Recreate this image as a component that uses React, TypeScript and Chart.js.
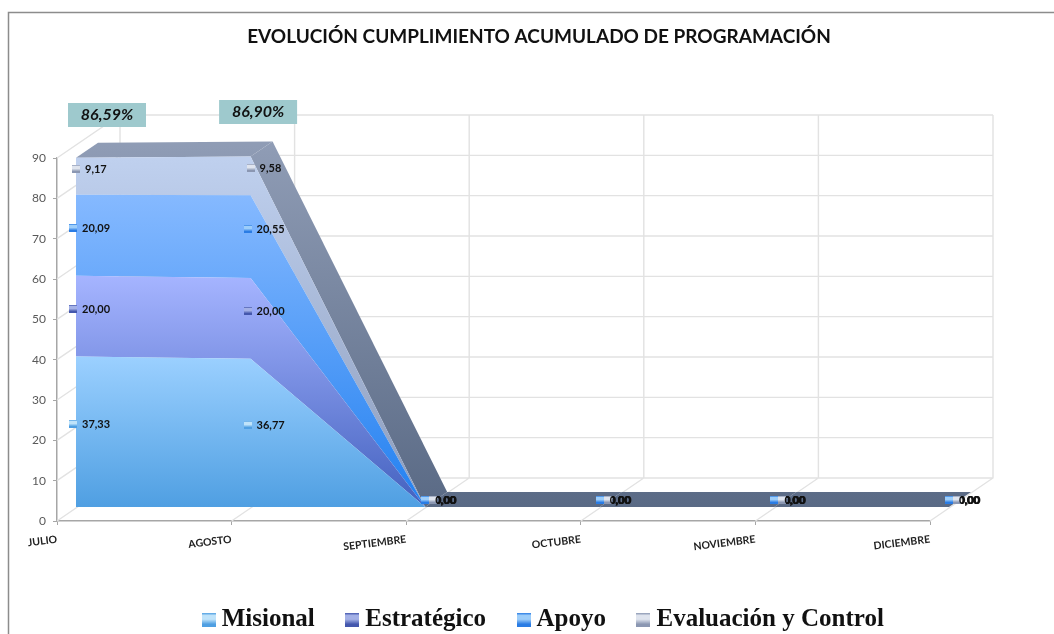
import React, { useEffect, useRef } from "react";
import { Chart, registerables } from "chart.js";

Chart.register(...registerables);

const categories = ["JULIO", "AGOSTO", "SEPTIEMBRE", "OCTUBRE", "NOVIEMBRE", "DICIEMBRE"];
const misional = [37.33, 36.77, 0, 0, 0, 0];
const estrategico = [20.0, 20.0, 0, 0, 0, 0];
const apoyo = [20.09, 20.55, 0, 0, 0, 0];
const evaluacion = [9.17, 9.58, 0, 0, 0, 0];
const seriesNames = ["Misional", "Estratégico", "Apoyo", "Evaluación y Control"];
const seriesValues = [misional, estrategico, apoyo, evaluacion];
const totalLabels = ["86,59%", "86,90%"];
const title = "EVOLUCIÓN CUMPLIMIENTO ACUMULADO DE PROGRAMACIÓN";

const fillTop = ["#9bd0ff", "#a5b4ff", "#85b9ff", "#bfd0ee"];
const fillBottom = ["#4f9fe2", "#4361bf", "#2280f0", "#8c9cbc"];
const iconDark = ["#4f9fe2", "#4457ad", "#2a7ce4", "#8b97b2"];
const iconLight = ["#bfe3fa", "#a3b0e6", "#9ccdfa", "#dfe4ee"];
// gradient start, in the plot's own pixel rows
const gradientStart = [371, 291, 210, 173];

const DEPTH = { wallX: 63, wallY: -43, areaX: 19, areaY: -14, backX: 41, backY: -29 };
const LABEL_DY = -7.5;

const fmt = (v: number) => v.toFixed(2).replace(".", ",");

function makeIcon(size: number, light: string, dark: string) {
  const c = document.createElement("canvas");
  c.width = size;
  c.height = size;
  const g = c.getContext("2d")!;
  const grad = g.createLinearGradient(0, 0, 0, size);
  grad.addColorStop(0, dark);
  grad.addColorStop(0.18, light);
  grad.addColorStop(0.45, light);
  grad.addColorStop(0.8, dark);
  grad.addColorStop(1, dark);
  g.fillStyle = grad;
  g.fillRect(0, 0, size, size);
  return c;
}

const scene3d = (smallIcons: HTMLCanvasElement[]) => ({
  id: "scene3d",
  afterLayout(chart: any) {
    chart.legend.left += 69;
    chart.legend.right += 69;
    chart.titleBlock.left += 62;
    chart.titleBlock.right += 62;
  },
  beforeDraw(chart: any) {
    const { ctx, width, height } = chart;
    ctx.save();
    ctx.strokeStyle = "#8c8c8c";
    ctx.lineWidth = 1.5;
    ctx.beginPath();
    ctx.moveTo(8.5, height);
    ctx.lineTo(8.5, 12.5);
    ctx.lineTo(width, 12.5);
    ctx.stroke();
    ctx.restore();
  },
  beforeDatasetsDraw(chart: any) {
    const { ctx } = chart;
    const x = chart.scales.x;
    const y = chart.scales.y;
    const x0 = x.getPixelForValue(0);
    const xN = x.getPixelForValue(categories.length - 1);
    const y0 = y.getPixelForValue(0);

    ctx.save();
    ctx.strokeStyle = "#e2e2e2";
    ctx.lineWidth = 1.4;
    ctx.beginPath();
    y.ticks.forEach((t: any) => {
      const py = y.getPixelForValue(t.value);
      ctx.moveTo(x0, py);
      ctx.lineTo(x0 + DEPTH.wallX, py + DEPTH.wallY);
      ctx.lineTo(xN + DEPTH.wallX, py + DEPTH.wallY);
    });
    categories.forEach((_, i) => {
      const px = x.getPixelForValue(i);
      ctx.moveTo(px, y0);
      ctx.lineTo(px + DEPTH.wallX, y0 + DEPTH.wallY);
      ctx.lineTo(px + DEPTH.wallX, y.getPixelForValue(90) + DEPTH.wallY);
    });
    ctx.stroke();

    // depth of the stacked solid: top surface and falling side
    const totals = categories.map((_, i) => seriesValues.reduce((s, a) => s + a[i], 0));
    const grad = ctx.createLinearGradient(0, 145, 0, 507);
    grad.addColorStop(0, "#8f9cb5");
    grad.addColorStop(1, "#5a6a85");
    ctx.fillStyle = grad;
    for (let i = 0; i < totals.length - 1; i++) {
      const xa = x.getPixelForValue(i);
      const xb = x.getPixelForValue(i + 1);
      const ya = y.getPixelForValue(totals[i]);
      const yb = y.getPixelForValue(totals[i + 1]);
      ctx.beginPath();
      ctx.moveTo(xa + DEPTH.areaX, ya + DEPTH.areaY);
      ctx.lineTo(xa + DEPTH.backX, ya + DEPTH.backY);
      ctx.lineTo(xb + DEPTH.backX, yb + DEPTH.backY);
      ctx.lineTo(xb + DEPTH.areaX, yb + DEPTH.areaY);
      ctx.closePath();
      ctx.fill();
    }
    ctx.restore();

    ctx.save();
    ctx.translate(DEPTH.areaX, DEPTH.areaY);
  },
  afterDatasetsDraw(chart: any) {
    const { ctx } = chart;
    ctx.restore();
    const x = chart.scales.x;
    const y = chart.scales.y;

    ctx.save();
    ctx.textAlign = "left";
    ctx.textBaseline = "middle";
    const base = categories.map(() => 0);
    seriesValues.forEach((vals, s) => {
      const last = s === seriesValues.length - 1;
      vals.forEach((v, i) => {
        const front = x.getPixelForValue(i) + DEPTH.areaX;
        const py = y.getPixelForValue(base[i] + v / 2) + DEPTH.areaY + LABEL_DY;
        const mx = front + (v > 0 ? (last ? 0 : -3) : last ? 8 : 0);
        ctx.drawImage(smallIcons[s], Math.round(mx - 4), Math.round(py - 4));
        const tx = v > 0 ? mx + 9 : front + 9 + (last ? 1 : 0);
        ctx.fillStyle = "#111111";
        ctx.font = "bold 11px Lato";
        ctx.fillText(fmt(v), tx, py + 0.5);
        base[i] += v;
      });
    });

    // percentage call-outs over the first two months
    const callX = [50, 26.5];
    const callY = [115, 112];
    totalLabels.forEach((label, i) => {
      const cx = x.getPixelForValue(i) + callX[i];
      const cy = callY[i];
      ctx.fillStyle = "#9ec9cd";
      ctx.fillRect(cx - 39, cy - 12, 78, 24);
      ctx.fillStyle = "#111111";
      ctx.font = "italic bold 16px Lato";
      ctx.textAlign = "center";
      ctx.fillText(label, cx, cy);
    });
    ctx.restore();
  },
});

export default function App() {
  const ref = useRef<HTMLCanvasElement>(null);
  useEffect(() => {
    const canvas = ref.current!;
    const g = canvas.getContext("2d")!;
    const legendIcons = seriesNames.map((_, i) => makeIcon(14, iconLight[i], iconDark[i]));
    const smallIcons = seriesNames.map((_, i) => makeIcon(8, iconLight[i], iconDark[i]));
    const fills = seriesNames.map((_, i) => {
      const gr = g.createLinearGradient(0, gradientStart[i], 0, 521);
      gr.addColorStop(0, fillTop[i]);
      gr.addColorStop(1, fillBottom[i]);
      return gr;
    });
    const chart = new Chart(canvas, {
      type: "line",
      data: {
        labels: categories,
        datasets: seriesNames.map((name, i) => ({
          label: name,
          data: seriesValues[i],
          fill: i === 0 ? "origin" : "-1",
          backgroundColor: fills[i],
          borderWidth: 0,
          pointRadius: 0,
          pointStyle: legendIcons[i],
          tension: 0,
          clip: false,
        })),
      },
      options: {
        animation: false,
        responsive: false,
        layout: { padding: { left: 24, right: 124, top: 0, bottom: 0 } },
        scales: {
          x: {
            type: "category",
            offset: false,
            grid: { drawOnChartArea: false, drawTicks: true, tickLength: 4, color: "#a6a6a6" },
            border: { color: "#a6a6a6", width: 1.5 },
            ticks: {
              autoSkip: false,
              minRotation: 7,
              maxRotation: 7,
              padding: 8,
              color: "#222222",
              font: { family: "Lato", weight: "bold", size: 10.5 },
            },
            afterFit(s: any) {
              s.height = 49.5;
            },
          },
          y: {
            stacked: true,
            min: 0,
            max: 90,
            ticks: {
              stepSize: 10,
              padding: 7,
              color: "#595959",
              font: { family: "Lato", size: 12 },
            },
            grid: { drawOnChartArea: false, drawTicks: true, tickLength: 4, color: "#a6a6a6" },
            border: { color: "#a6a6a6", width: 1.5 },
            afterFit(s: any) {
              s.width = 33;
            },
          },
        },
        plugins: {
          title: {
            display: true,
            text: title,
            color: "#111111",
            font: { family: "Lato", weight: "bold", size: 19 },
            padding: { top: 25, bottom: 110.2 },
          },
          legend: {
            display: true,
            position: "bottom",
            maxHeight: 63.5,
            labels: {
              usePointStyle: true,
              pointStyleWidth: 1,
              padding: 37,
              color: "#111111",
              font: { family: "Liberation Serif", weight: "bold", size: 25 },
            },
          },
          tooltip: { enabled: false },
        },
      },
      plugins: [scene3d(smallIcons)],
    } as any);
    return () => chart.destroy();
  }, []);
  return (
    <canvas
      ref={ref}
      width={1054}
      height={634}
      style={{ position: "fixed", left: 0, top: 0, width: 1054, height: 634, display: "block" }}
    />
  );
}
